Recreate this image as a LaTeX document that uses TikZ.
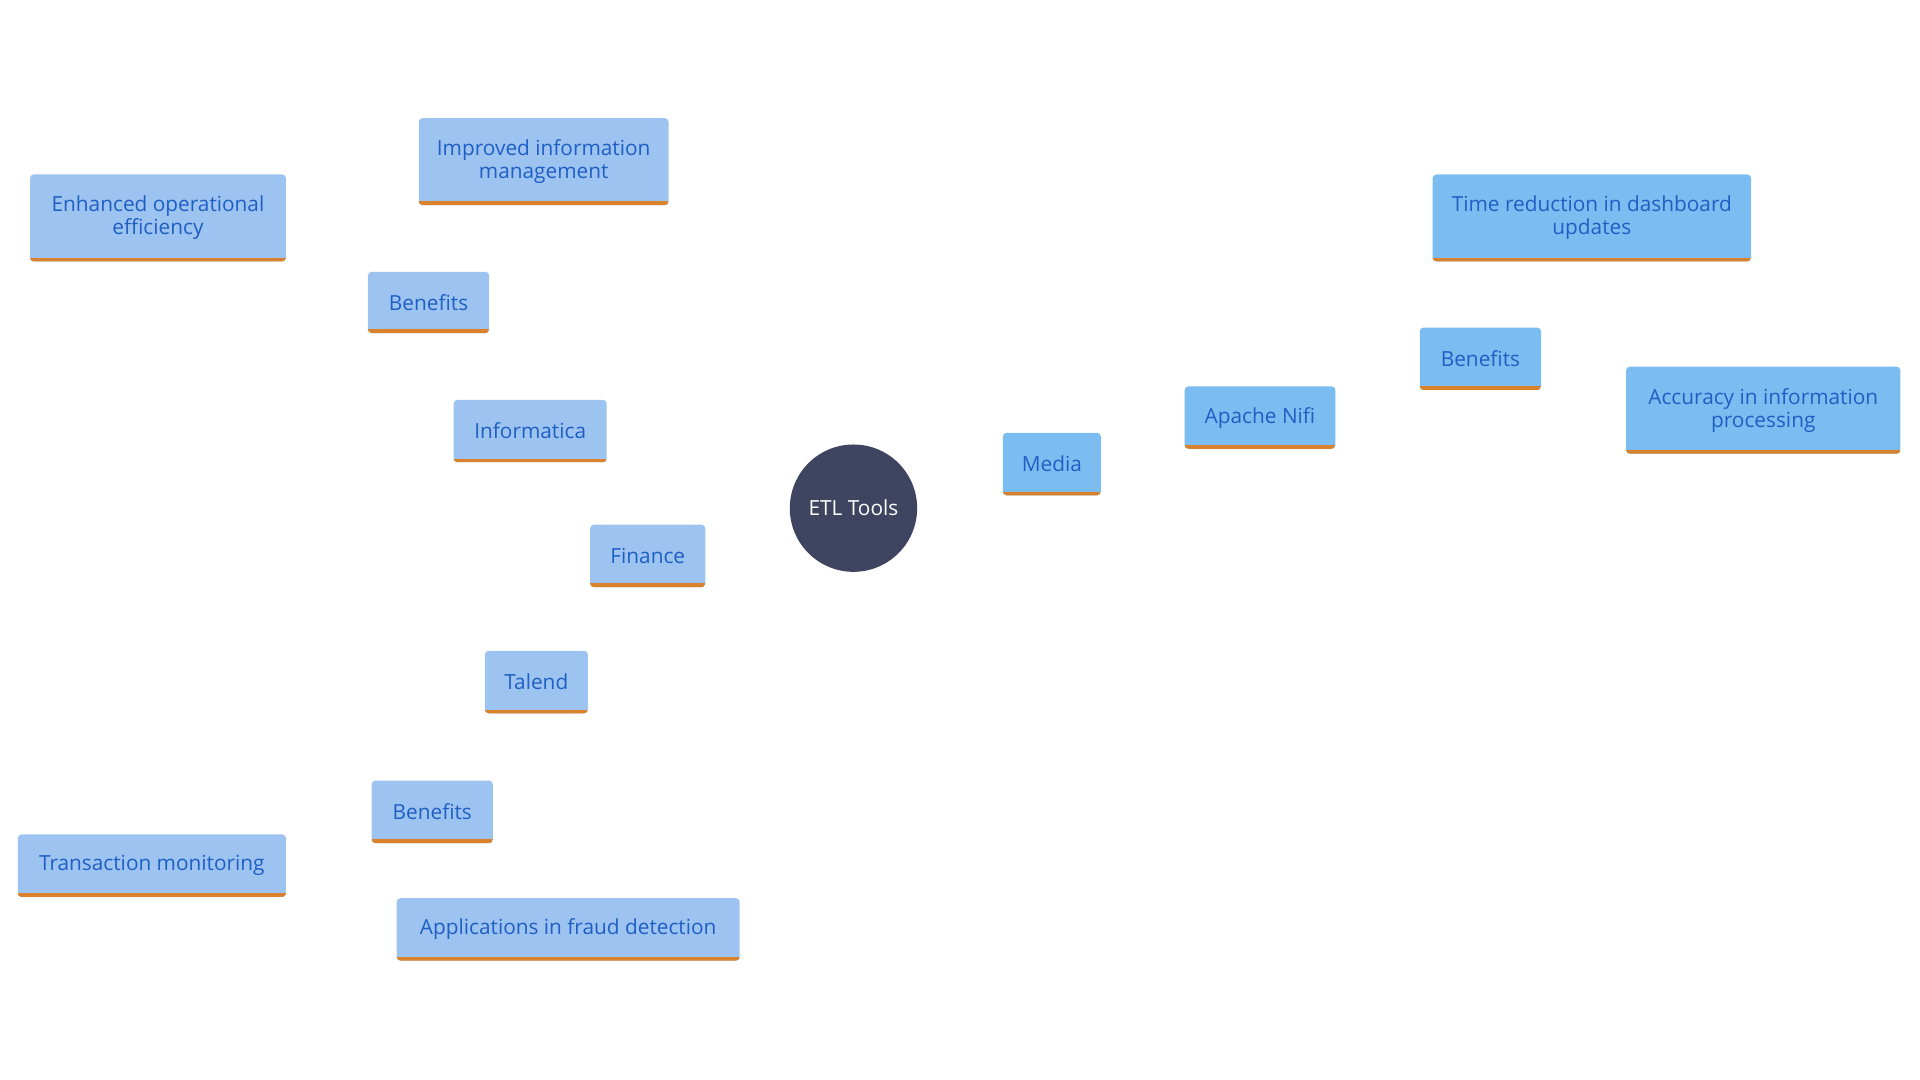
\documentclass[tikz,border=0pt]{standalone}
\usepackage{fontspec}
\setmainfont{Open Sans}
\usetikzlibrary{backgrounds}
\definecolor{boxA}{HTML}{9DC3F0}
\definecolor{boxB}{HTML}{7BBDF0}
\definecolor{txt}{HTML}{1F5FC4}
\definecolor{bar}{HTML}{D9822B}
\definecolor{hub}{HTML}{3F4560}
\tikzset{
  mbox/.style={rectangle, rounded corners=3pt, text=txt, font=\fontsize{17}{19}\selectfont, align=center, inner sep=0pt,
    path picture={\draw[bar,line width=6pt] (path picture bounding box.south west) -- (path picture bounding box.south east);}},
  fa/.style={mbox, fill=boxA},
  fb/.style={mbox, fill=boxB},
  la/.style={boxA, line width=3pt},
  lb/.style={boxB, line width=3pt}
}
\begin{document}
\begin{tikzpicture}[x=1pt,y=-1pt]
\useasboundingbox[fill=white] (0,0) rectangle (1568,882);
\node[circle, fill=hub, minimum size=104pt, text=white, font=\fontsize{17}{19}\selectfont] (etl) at (697,415) {ETL Tools};
\node[fa, minimum width=94pt, minimum height=51pt] (fin) at (529,454) {Finance};
\node[fa, minimum width=125pt, minimum height=51pt] (inf) at (433,352) {Informatica};
\node[fa, minimum width=99pt, minimum height=50pt] (b1) at (350,247) {Benefits};
\node[fa, minimum width=204pt, minimum height=71pt] (imp) at (444,132) {Improved information\\management};
\node[fa, minimum width=209pt, minimum height=71pt] (enh) at (129,178) {Enhanced operational\\efficiency};
\node[fa, minimum width=84pt, minimum height=51pt] (tal) at (438,557) {Talend};
\node[fa, minimum width=99pt, minimum height=51pt] (b2) at (353,663) {Benefits};
\node[fa, minimum width=219pt, minimum height=51pt] (tra) at (124,707) {Transaction monitoring};
\node[fa, minimum width=280pt, minimum height=51pt] (app) at (464,759) {Applications in fraud detection};
\node[fb, minimum width=80pt, minimum height=51pt] (med) at (859,379) {Media};
\node[fb, minimum width=123pt, minimum height=51pt] (nifi) at (1029,341) {Apache Nifi};
\node[fb, minimum width=99pt, minimum height=51pt] (b3) at (1209,293) {Benefits};
\node[fb, minimum width=260pt, minimum height=71pt] (tim) at (1300,178) {Time reduction in dashboard\\updates};
\node[fb, minimum width=224pt, minimum height=71pt] (acc) at (1440,335) {Accuracy in information\\processing};
\begin{scope}[on background layer]
\draw[la] (etl.center) -- (fin.center);
\draw[la] (fin.center) -- (inf.center);
\draw[la] (inf.center) -- (b1.center);
\draw[la] (b1.center) -- (imp.center);
\draw[la] (b1.center) -- (enh.center);
\draw[la] (fin.center) -- (tal.center);
\draw[la] (tal.center) -- (b2.center);
\draw[la] (b2.center) -- (tra.center);
\draw[la] (b2.center) -- (app.center);
\draw[lb] (etl.center) -- (med.center);
\draw[lb] (med.center) -- (nifi.center);
\draw[lb] (nifi.center) -- (b3.center);
\draw[lb] (b3.center) -- (tim.center);
\draw[lb] (b3.center) -- (acc.center);
\end{scope}
\end{tikzpicture}
\end{document}
